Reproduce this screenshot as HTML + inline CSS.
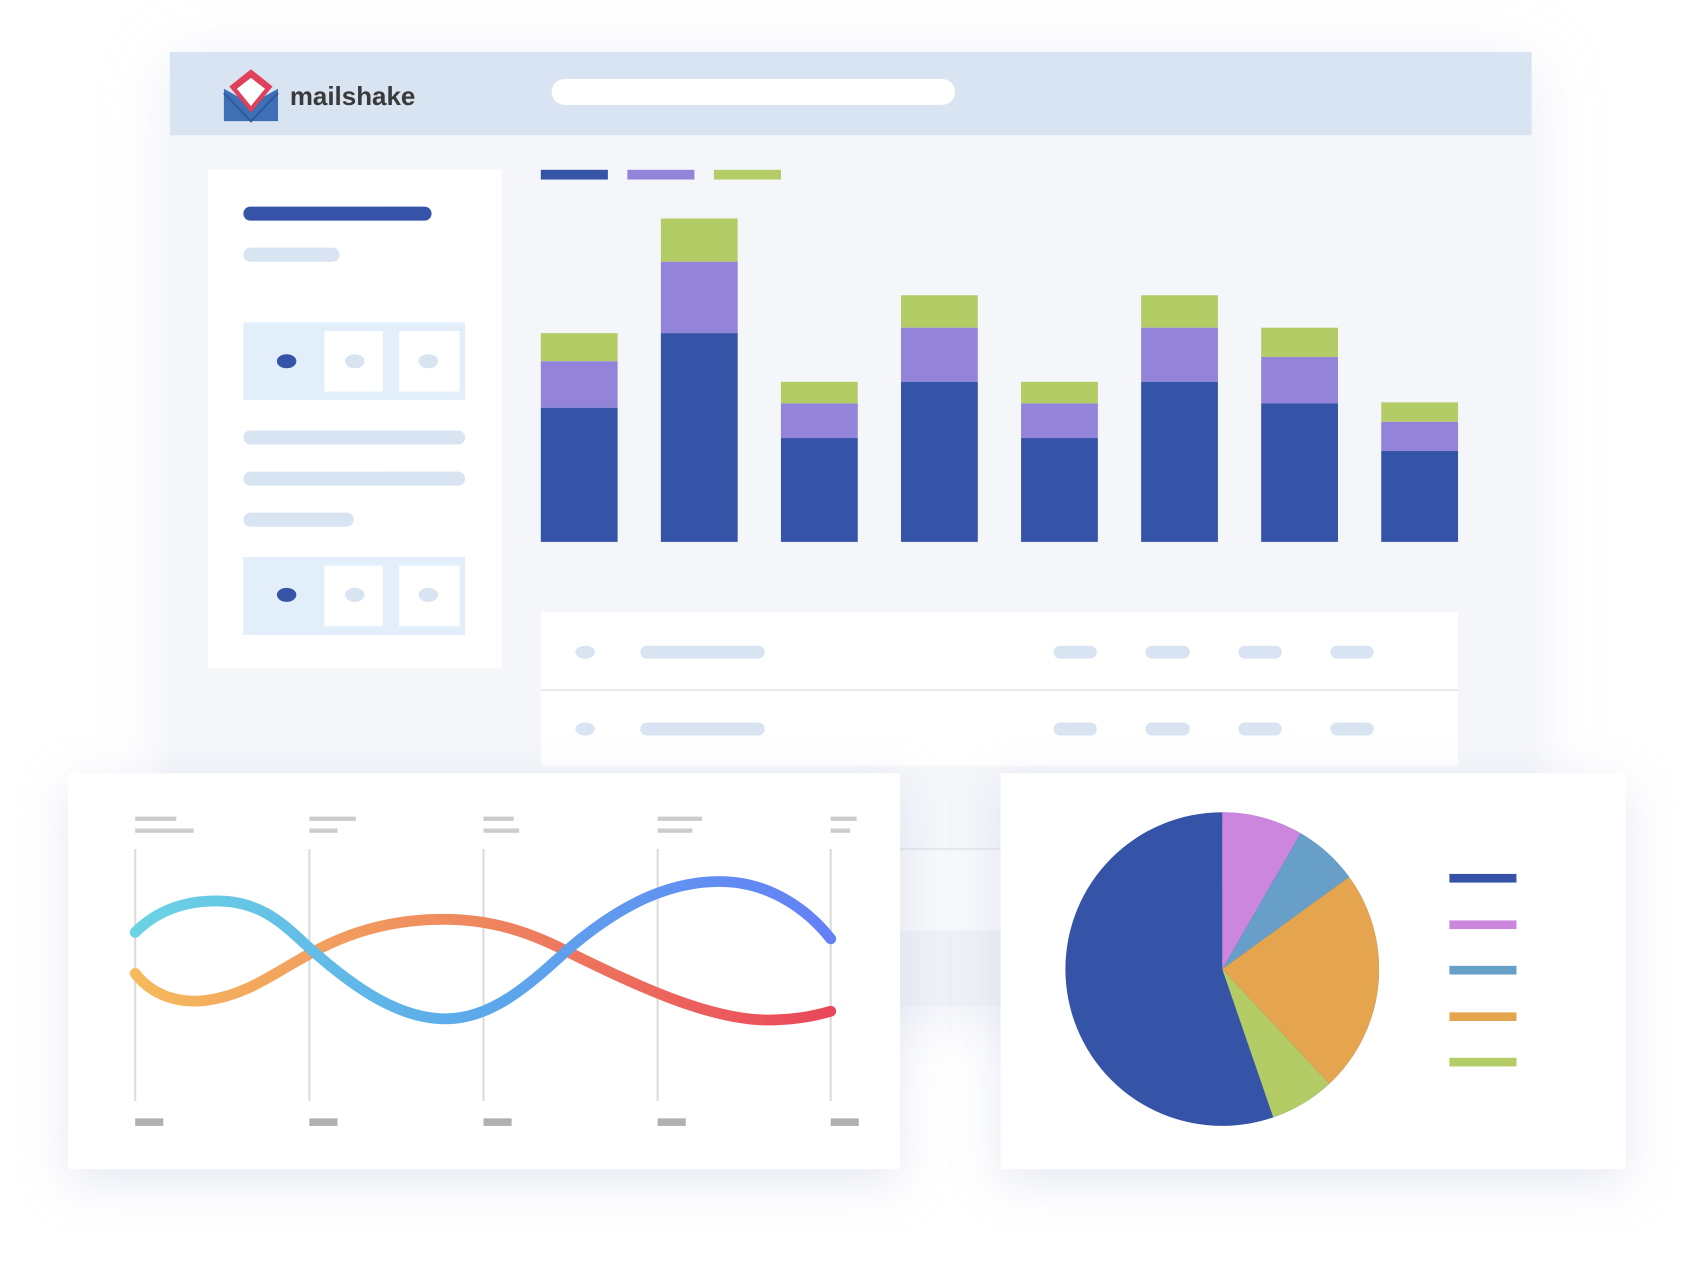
<!DOCTYPE html>
<html><head><meta charset="utf-8"><style>
html,body{margin:0;padding:0;background:#fff;width:1696px;height:1286px;overflow:hidden}
svg{display:block}
</style></head><body>
<svg width="1696" height="1286" viewBox="0 0 1568 1189" preserveAspectRatio="none" xmlns="http://www.w3.org/2000/svg">
<defs>
<filter id="sh" x="-20%" y="-20%" width="140%" height="150%"><feDropShadow dx="0" dy="12" stdDeviation="22" flood-color="#b8c0dc" flood-opacity="0.35"/></filter>
<filter id="sh2" x="-20%" y="-20%" width="140%" height="140%"><feDropShadow dx="0" dy="10" stdDeviation="30" flood-color="#c8cfe6" flood-opacity="0.35"/></filter>
<linearGradient id="ga" gradientUnits="userSpaceOnUse" x1="125" y1="0" x2="768" y2="0"><stop offset="0" stop-color="#6bd3e4"/><stop offset="0.45" stop-color="#5cace9"/><stop offset="1" stop-color="#6480f6"/></linearGradient>
<linearGradient id="gb" gradientUnits="userSpaceOnUse" x1="125" y1="0" x2="768" y2="0"><stop offset="0" stop-color="#f5ba5c"/><stop offset="0.45" stop-color="#ef8c5f"/><stop offset="1" stop-color="#e9475a"/></linearGradient>
</defs>
<rect x="157" y="48" width="1259" height="880" fill="#f4f6fa" filter="url(#sh2)"/>
<rect x="157" y="48" width="1259" height="77" fill="#d8e4f1"/>
<!-- logo -->
<path d="M207,82 L232,96 L257,82 L257,112 L207,112 Z" fill="#3f6fb5"/>
<path d="M212,80 L232,64 L252,80 L232,104 Z" fill="#e0405a"/>
<path d="M219,82 L232,72 L245,82 L232,98 Z" fill="#fff"/>
<path d="M207,86 L232,112 L257,86" fill="none" stroke="#2d5aa0" stroke-width="2"/>
<text x="268" y="97" font-family="Liberation Sans, sans-serif" font-size="24" font-weight="bold" fill="#3a3a3a">mailshake</text>
<rect x="510" y="73" width="373" height="24" rx="12" fill="#fff"/>
<!-- left card -->
<rect x="192" y="157" width="272" height="461" fill="#fff"/>
<rect x="225" y="191" width="174" height="13" rx="6.5" fill="#3554a8"/>
<rect x="225" y="229" width="89" height="13" rx="6.5" fill="#d8e4f1"/>
<g>
<rect x="225" y="298" width="205" height="72" fill="#e3eefb"/>
<rect x="300" y="306" width="54" height="56" fill="#fff"/><rect x="369" y="306" width="56" height="56" fill="#fff"/>
<ellipse cx="265" cy="334" rx="9" ry="6.5" fill="#3554a8"/><ellipse cx="328" cy="334" rx="9" ry="6.5" fill="#d8e4f1"/><ellipse cx="396" cy="334" rx="9" ry="6.5" fill="#d8e4f1"/>
</g>
<rect x="225" y="398" width="205" height="13" rx="6.5" fill="#d8e4f1"/>
<rect x="225" y="436" width="205" height="13" rx="6.5" fill="#d8e4f1"/>
<rect x="225" y="474" width="102" height="13" rx="6.5" fill="#d8e4f1"/>
<g>
<rect x="225" y="515" width="205" height="72" fill="#e3eefb"/>
<rect x="300" y="523" width="54" height="56" fill="#fff"/><rect x="369" y="523" width="56" height="56" fill="#fff"/>
<ellipse cx="265" cy="550" rx="9" ry="6.5" fill="#3554a8"/><ellipse cx="328" cy="550" rx="9" ry="6.5" fill="#d8e4f1"/><ellipse cx="396" cy="550" rx="9" ry="6.5" fill="#d8e4f1"/>
</g>
<!-- legend -->
<rect x="500" y="157" width="62" height="9" fill="#3554a8"/>
<rect x="580" y="157" width="62" height="9" fill="#9384da"/>
<rect x="660" y="157" width="62" height="9" fill="#b3cc65"/>
<!-- bars -->
<g>
<rect x="500" y="308" width="71" height="26" fill="#b3cc65"/><rect x="500" y="334" width="71" height="43" fill="#9384da"/><rect x="500" y="377" width="71" height="124" fill="#3554a8"/>
<rect x="611" y="202" width="71" height="40" fill="#b3cc65"/><rect x="611" y="242" width="71" height="66" fill="#9384da"/><rect x="611" y="308" width="71" height="193" fill="#3554a8"/>
<rect x="722" y="353" width="71" height="20" fill="#b3cc65"/><rect x="722" y="373" width="71" height="32" fill="#9384da"/><rect x="722" y="405" width="71" height="96" fill="#3554a8"/>
<rect x="833" y="273" width="71" height="30" fill="#b3cc65"/><rect x="833" y="303" width="71" height="50" fill="#9384da"/><rect x="833" y="353" width="71" height="148" fill="#3554a8"/>
<rect x="944" y="353" width="71" height="20" fill="#b3cc65"/><rect x="944" y="373" width="71" height="32" fill="#9384da"/><rect x="944" y="405" width="71" height="96" fill="#3554a8"/>
<rect x="1055" y="273" width="71" height="30" fill="#b3cc65"/><rect x="1055" y="303" width="71" height="50" fill="#9384da"/><rect x="1055" y="353" width="71" height="148" fill="#3554a8"/>
<rect x="1166" y="303" width="71" height="27" fill="#b3cc65"/><rect x="1166" y="330" width="71" height="43" fill="#9384da"/><rect x="1166" y="373" width="71" height="128" fill="#3554a8"/>
<rect x="1277" y="372" width="71" height="18" fill="#b3cc65"/><rect x="1277" y="390" width="71" height="27" fill="#9384da"/><rect x="1277" y="417" width="71" height="84" fill="#3554a8"/>
</g>
<!-- table -->
<rect x="500" y="566" width="848" height="142" fill="#fff"/>
<line x1="500" y1="638" x2="1348" y2="638" stroke="#e8ebf0" stroke-width="2"/>
<g fill="#d8e4f1">
<ellipse cx="541" cy="603" rx="9" ry="6"/><rect x="592" y="597" width="115" height="12" rx="6"/>
<rect x="974" y="597" width="40" height="12" rx="6"/><rect x="1059" y="597" width="41" height="12" rx="6"/><rect x="1145" y="597" width="40" height="12" rx="6"/><rect x="1230" y="597" width="40" height="12" rx="6"/>
<ellipse cx="541" cy="674" rx="9" ry="6"/><rect x="592" y="668" width="115" height="12" rx="6"/>
<rect x="974" y="668" width="40" height="12" rx="6"/><rect x="1059" y="668" width="41" height="12" rx="6"/><rect x="1145" y="668" width="40" height="12" rx="6"/><rect x="1230" y="668" width="40" height="12" rx="6"/>
</g>
<rect x="832" y="785" width="93" height="75" fill="#f7f8fb"/>
<line x1="832" y1="785" x2="925" y2="785" stroke="#e6e8ee" stroke-width="2"/>
<rect x="832" y="860" width="93" height="70" fill="#eef0f6"/>
<!-- line card -->
<rect x="63" y="715" width="769" height="366" fill="#fff" filter="url(#sh)"/>
<g stroke="#dddddd" stroke-width="2">
<line x1="125" y1="785" x2="125" y2="1018"/><line x1="286" y1="785" x2="286" y2="1018"/><line x1="447" y1="785" x2="447" y2="1018"/><line x1="608" y1="785" x2="608" y2="1018"/><line x1="768" y1="785" x2="768" y2="1018"/>
</g>
<g fill="#cccccc">
<rect x="125" y="755" width="38" height="4"/><rect x="125" y="766" width="54" height="4"/>
<rect x="286" y="755" width="43" height="4"/><rect x="286" y="766" width="26" height="4"/>
<rect x="447" y="755" width="28" height="4"/><rect x="447" y="766" width="33" height="4"/>
<rect x="608" y="755" width="41" height="4"/><rect x="608" y="766" width="32" height="4"/>
<rect x="768" y="755" width="24" height="4"/><rect x="768" y="766" width="18" height="4"/>
</g>
<g fill="#b0b0b0">
<rect x="125" y="1034" width="26" height="7"/><rect x="286" y="1034" width="26" height="7"/><rect x="447" y="1034" width="26" height="7"/><rect x="608" y="1034" width="26" height="7"/><rect x="768" y="1034" width="26" height="7"/>
</g>
<path d="M125,900 C140,920 165,928 190,925 C230,920 255,898 290,880 C330,858 370,850 410,850 C455,850 490,862 525,880 C590,912 660,945 715,943 C745,942 760,937 768,935" fill="none" stroke="url(#gb)" stroke-width="10" stroke-linecap="round"/>
<path d="M125,862 C145,842 170,833 200,833 C245,833 265,858 290,880 C330,915 370,942 412,942 C455,942 490,910 525,878 C575,835 620,815 665,815 C715,815 750,845 768,868" fill="none" stroke="url(#ga)" stroke-width="10" stroke-linecap="round"/>
<!-- pie card -->
<rect x="925" y="715" width="578" height="366" fill="#fff" filter="url(#sh)"/>
<g transform="translate(1130,896)">
<circle r="145" fill="#3554a8"/>
<path d="M0,0 L0,-145 A145,145 0 0 1 72.5,-125.6 Z" fill="#cd86de"/>
<path d="M0,0 L72.5,-125.6 A145,145 0 0 1 117.3,-85.2 Z" fill="#679fc8"/>
<path d="M0,0 L117.3,-85.2 A145,145 0 0 1 98.9,106 Z" fill="#e5a54f"/>
<path d="M0,0 L98.9,106 A145,145 0 0 1 47.2,137.1 Z" fill="#b3cc65"/>
</g>
<rect x="1340" y="808" width="62" height="8" fill="#3554a8"/>
<rect x="1340" y="851" width="62" height="8" fill="#cd86de"/>
<rect x="1340" y="893" width="62" height="8" fill="#679fc8"/>
<rect x="1340" y="936" width="62" height="8" fill="#e5a54f"/>
<rect x="1340" y="978" width="62" height="8" fill="#b3cc65"/>
</svg>
</body></html>
